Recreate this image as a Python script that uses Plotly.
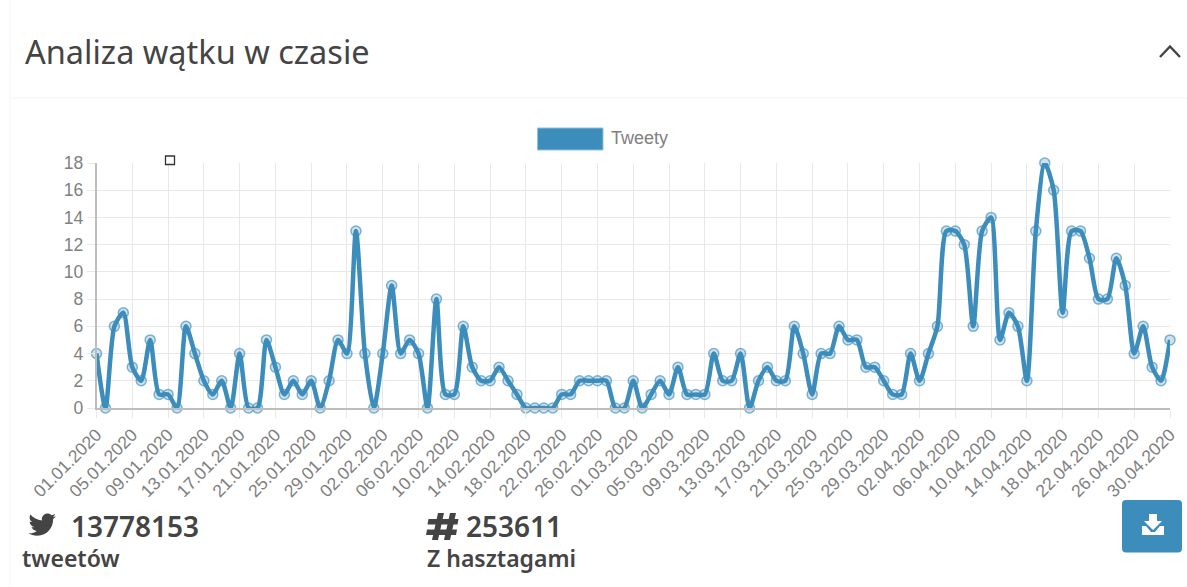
import re
import pandas as pd
import plotly.graph_objects as go

W, H = 1187, 587

tweets = [4,0,6,7,3,2,5,1,1,0,6,4,2,1,2,0,4,0,0,5,3,1,2,1,2,0,2,5,4,13,
          4,0,4,9,4,5,4,0,8,1,1,6,3,2,2,3,2,1,0,0,0,0,1,1,2,2,2,2,
          0,0,2,0,1,2,1,3,1,1,1,4,2,2,4,0,2,3,2,2,6,4,1,4,4,6,5,5,3,3,
          2,1,1,4,2,4,6,13,13,12,6,13,14,5,7,6,2,13,18,16,7,13,13,11,8,8,
          11,9,4,6,3,2,5]
dates = [d.strftime("%d.%m.%Y") for d in pd.date_range("2020-01-01", "2020-04-30")]
y_ticks = [0, 2, 4, 6, 8, 10, 12, 14, 16, 18]
title_text = "Analiza wątku w czasie"
legend_text = "Tweety"
tweet_count = "13778153"
tweet_label = "tweetów"
hash_count = "253611"
hash_label = "Z hasztagami"

BLUE = "#3c8dbc"
GRID = "#e8e8e8"
AXIS = "#bdbdbd"
TICK = "#808080"
DARK = "#444444"
SANS = "Noto Sans"
ARIAL = "Liberation Sans"


def px(x):
    return x / W


def py(y):
    return 1 - y / H


BIRD = ("M459.37 151.716c.325 4.548.325 9.097.325 13.645 0 138.72-105.583 298.558-298.558 298.558"
        "-59.452 0-114.68-17.219-161.137-47.106 8.447.974 16.568 1.299 25.34 1.299 49.055 0 94.213"
        "-16.568 130.274-44.832-46.132-.975-84.792-31.188-98.112-72.772 6.498.974 12.995 1.624 19.818"
        " 1.624 9.421 0 18.843-1.3 27.614-3.573-48.081-9.747-84.143-51.98-84.143-102.985v-1.299"
        "c13.969 7.797 30.214 12.67 47.431 13.319-28.264-18.843-46.781-51.005-46.781-87.391 0-19.492"
        " 5.197-37.36 14.294-52.954 51.655 63.675 129.3 105.258 216.365 109.807-1.624-7.797-2.599"
        "-15.918-2.599-24.04 0-57.828 46.782-104.934 104.934-104.934 30.213 0 57.502 12.67 76.67"
        " 33.137 23.715-4.548 46.456-13.32 66.599-25.34-7.798 24.366-24.366 44.833-46.132 57.827"
        " 21.117-2.273 41.584-8.122 60.426-16.243-14.292 20.791-32.161 39.308-52.628 54.253z")


def icon_path(d, left, top, scale):
    """Turn an icon's path (M, c, v, z) into absolute page fractions."""
    tokens = re.findall(r"[Mcvz]|-?\d*\.?\d+", d)
    out, i, cx, cy, cmd = [], 0, 0.0, 0.0, None
    pt = lambda x, y: f"{px(left + x * scale):.5f},{py(top + y * scale):.5f}"
    while i < len(tokens):
        t = tokens[i]
        if t in "Mcvz":
            cmd = t
            i += 1
            if t == "z":
                out.append("Z")
            continue
        if cmd == "M":
            cx, cy = float(tokens[i]), float(tokens[i + 1])
            out.append("M" + pt(cx, cy))
            i += 2
        elif cmd == "v":
            cy += float(tokens[i])
            out.append("L" + pt(cx, cy))
            i += 1
        elif cmd == "c":
            v = [float(a) for a in tokens[i:i + 6]]
            out.append("C" + pt(cx + v[0], cy + v[1]) + " " + pt(cx + v[2], cy + v[3]) + " " + pt(cx + v[4], cy + v[5]))
            cx += v[4]
            cy += v[5]
            i += 6
    return " ".join(out)


def poly(points):
    return "M" + " L".join(f"{px(x):.5f},{py(y):.5f}" for x, y in points) + " Z"


def rounded(x0, y0, x1, y1, r):
    p = lambda x, y: f"{px(x):.5f},{py(y):.5f}"
    return (f"M{p(x0 + r, y0)} L{p(x1 - r, y0)} Q{p(x1, y0)} {p(x1, y0 + r)} L{p(x1, y1 - r)} "
            f"Q{p(x1, y1)} {p(x1 - r, y1)} L{p(x0 + r, y1)} Q{p(x0, y1)} {p(x0, y1 - r)} "
            f"L{p(x0, y0 + r)} Q{p(x0, y0)} {p(x0 + r, y0)} Z")


def page_rect(x0, y0, x1, y1, **kw):
    return dict(type="rect", xref="paper", yref="paper", x0=px(x0), x1=px(x1), y0=py(y0), y1=py(y1), **kw)


def page_line(x0, y0, x1, y1, color, width):
    return dict(type="line", xref="paper", yref="paper", x0=px(x0), x1=px(x1), y0=py(y0), y1=py(y1),
                line=dict(color=color, width=width))


def page_path(path, **kw):
    return dict(type="path", xref="paper", yref="paper", path=path, **kw)


def label(x, y, text, size, color, anchor="left", family=SANS, weight=None):
    return dict(xref="paper", yref="paper", x=px(x), y=py(y), text=text, showarrow=False,
                xanchor=anchor, yanchor="middle", borderpad=0, borderwidth=0,
                font=dict(family=family, size=size, color=color, weight=weight))


fig = go.Figure(go.Scatter(
    x=dates, y=tweets, mode="lines+markers", cliponaxis=False, showlegend=False,
    line=dict(color=BLUE, width=4.5, shape="spline", smoothing=0.7),
    marker=dict(size=10, color="rgba(60,141,188,0.25)", line=dict(color="rgba(60,141,188,0.65)", width=1.5)),
))

hash_parts = [
    [(428.5, 519), (458.5, 519), (457.5, 524.5), (427.5, 524.5)],
    [(427, 529.5), (457, 529.5), (456, 535), (426, 535)],
    [(438, 513), (444, 513), (438, 540), (432, 540)],
    [(450, 513), (456, 513), (450, 540), (444, 540)],
]

shapes = [
    page_line(10, 0, 10, H, "#f5f5f5", 1),
    page_line(10, 98, W, 98, "#f4f4f4", 1),
    page_path("M%.5f,%.5f L%.5f,%.5f L%.5f,%.5f" % (px(1160), py(57), px(1170), py(46.5), px(1180), py(57)),
              line=dict(color=DARK, width=2.4)),
    page_rect(537.5, 128, 603, 150, fillcolor=BLUE, line=dict(color="#8fc1e0", width=1)),
    page_rect(165.5, 156, 174.5, 164.5, fillcolor="#ffffff", line=dict(color="#333333", width=1.3), layer="above"),
    page_path(icon_path(BIRD, 28.5, 511, 0.0535), fillcolor=DARK, line=dict(width=0)),
    page_path(rounded(1122, 500, 1182, 552.5, 4), fillcolor=BLUE, line=dict(width=0)),
    page_path(poly([(1149, 514), (1157, 514), (1157, 521), (1162, 521), (1153, 530), (1144, 521), (1149, 521)]),
              fillcolor="#ffffff", line=dict(width=0)),
    page_path(poly([(1142, 526), (1146, 526), (1151, 532), (1155, 532), (1160, 526), (1164, 526), (1164, 535), (1142, 535)]),
              fillcolor="#ffffff", line=dict(width=0)),
] + [page_path(poly(part), fillcolor=DARK, line=dict(width=0)) for part in hash_parts]

annotations = [
    label(25, 52, title_text, 32.5, DARK),
    label(611, 138, legend_text, 18, TICK, family=ARIAL),
    label(71, 526, tweet_count, 28, DARK, weight=600),
    label(22, 558, tweet_label, 23, DARK, weight=600),
    label(466, 526, hash_count, 28, DARK, weight=600),
    label(427, 558, hash_label, 23, DARK, weight=600),
]

fig.update_layout(
    width=W, height=H, autosize=False,
    margin=dict(l=0, r=0, t=0, b=0),
    paper_bgcolor="#ffffff", plot_bgcolor="#ffffff",
    showlegend=False, shapes=shapes, annotations=annotations,
    xaxis=dict(
        automargin=False,
        domain=[px(96.5), px(1170)], type="category", range=[0, 120],
        tickmode="array", tickvals=dates[::4], ticktext=dates[::4],
        tickangle=-45, tickfont=dict(family=ARIAL, size=17.5, color=TICK),
        showgrid=True, gridcolor=GRID, gridwidth=1,
        ticks="outside", ticklen=8, tickcolor=GRID,
        showline=True, linecolor=AXIS, linewidth=1.5, zeroline=False,
    ),
    yaxis=dict(
        automargin=False,
        domain=[py(408), py(163)], range=[0, 18],
        tickmode="array", tickvals=y_ticks, ticktext=[str(v) for v in y_ticks],
        tickfont=dict(family=ARIAL, size=17.5, color=TICK),
        showgrid=True, gridcolor=GRID, gridwidth=1,
        ticks="outside", ticklen=8, tickcolor=GRID,
        showline=True, linecolor=AXIS, linewidth=1.5, zeroline=False,
    ),
)

fig.write_html("out.html", post_script="document.body.style.margin='0';document.body.style.overflow='hidden';",
               config=dict(displayModeBar=False))
